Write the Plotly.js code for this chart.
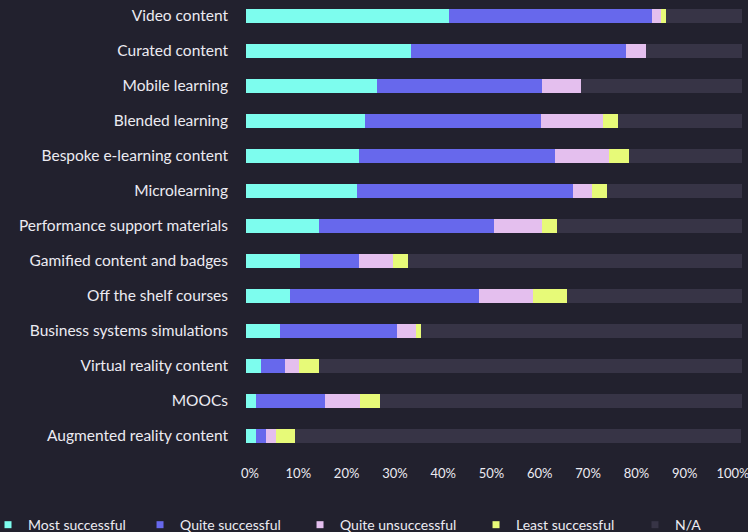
<!DOCTYPE html>
<html><head><meta charset="utf-8">
<script src="https://cdn.plot.ly/plotly-3.0.1.min.js"></script>
<style>html,body{margin:0;padding:0;background:#22212e;overflow:hidden;}</style>
</head><body><div id="chart" style="width:748px;height:532px;"></div>
<script>
const categories = ["Video content","Curated content","Mobile learning","Blended learning","Bespoke e-learning content","Microlearning","Performance support materials","Gamified content and badges","Off the shelf courses","Business systems simulations","Virtual reality content","MOOCs","Augmented reality content"];
const seriesNames = ["Most successful","Quite successful","Quite unsuccessful","Least successful","N/A"];
const mostSuccessful   = [40.9,33.3,26.4,24.0,22.8,22.4,14.7,10.9, 8.9, 6.9, 3.0, 2.0, 2.0];
const quiteSuccessful  = [41.0,43.3,33.3,35.5,39.5,43.5,35.3,11.9,38.1,23.5, 4.9,13.9, 2.0];
const quiteUnsuccessful= [ 1.8, 4.0, 7.8,12.5,10.9, 3.9, 9.7, 6.8,10.9, 3.9, 2.8, 7.1, 2.0];
const leastSuccessful  = [ 1.0, 0.0, 0.0, 3.0, 4.0, 3.0, 3.0, 3.1, 6.8, 1.0, 4.0, 4.0, 3.9];
const notApplicable    = [15.3,19.4,32.5,25.0,22.8,27.2,37.3,67.3,35.3,64.7,85.3,73.0,89.9];
const tickValues = [0,10,20,30,40,50,60,70,80,90,100];
const tickLabels = ["0%","10%","20%","30%","40%","50%","60%","70%","80%","90%","100%"];

const colors = ["#7dfdee","#6768ec","#e4bfee","#e7fa78","#373446"];
const series = [mostSuccessful, quiteSuccessful, quiteUnsuccessful, leastSuccessful, notApplicable];
const FONT = "Lato, 'Open Sans', sans-serif";
const legendIds = ["legend","legend2","legend3","legend4","legend5"];
const legendX = [0, 0.1872, 0.4011, 0.6364, 0.8489];
const legendIndent = [-12, 0, 0, 0, 0];

const traces = [];
series.forEach((vals, i) => {
  traces.push({
    type: "bar", orientation: "h", x: vals, y: categories, name: seriesNames[i],
    marker: {color: colors[i], line: {width: 0}}, width: 0.4,
    showlegend: false, hoverinfo: "skip", xaxis: "x", yaxis: "y"
  });
});
series.forEach((vals, i) => {
  traces.push({
    type: "scatter", mode: "markers", x: [null], y: [null], name: seriesNames[i],
    marker: {symbol: "square", size: 7, color: colors[i]}, legend: legendIds[i],
    showlegend: true, hoverinfo: "skip", xaxis: "x2", yaxis: "y"
  });
});

const layout = {
  width: 748, height: 532,
  paper_bgcolor: "#22212e", plot_bgcolor: "#22212e",
  margin: {l: 246, r: 6, t: 0, b: 77, pad: 0},
  barmode: "stack", bargap: 0.6,
  font: {family: FONT, color: "#ecebf2", size: 14},
  xaxis: {range: [0, 100], showticklabels: false, showgrid: false, zeroline: false, showline: false, ticks: "", fixedrange: true},
  xaxis2: {overlaying: "x", anchor: "y", side: "bottom", range: [-0.83, 101.87],
    tickmode: "array", tickvals: tickValues, ticktext: tickLabels,
    showgrid: false, zeroline: false, showline: false, ticks: "", ticklabeloverflow: "allow",
    tickfont: {family: FONT, size: 13, color: "#ecebf2"}, ticklabelstandoff: 9, fixedrange: true},
  yaxis: {type: "category", categoryorder: "array", categoryarray: categories,
    range: [12.543, -0.457], showgrid: false, zeroline: false, showline: false, ticks: "",
    tickfont: {family: FONT, size: 15.5, color: "#ecebf2"}, ticklabelstandoff: 17, fixedrange: true},
  showlegend: true
};
legendIds.forEach((id, i) => {
  layout[id] = {orientation: "h", xref: "container", yref: "container", x: legendX[i], xanchor: "left",
    y: 0.013, yanchor: "middle", font: {family: FONT, size: 14, color: "#ecebf2"},
    indentation: legendIndent[i],
    bgcolor: "rgba(0,0,0,0)", itemclick: false, itemdoubleclick: false};
});
Plotly.newPlot("chart", traces, layout, {displayModeBar: false, staticPlot: true});
</script></body></html>
